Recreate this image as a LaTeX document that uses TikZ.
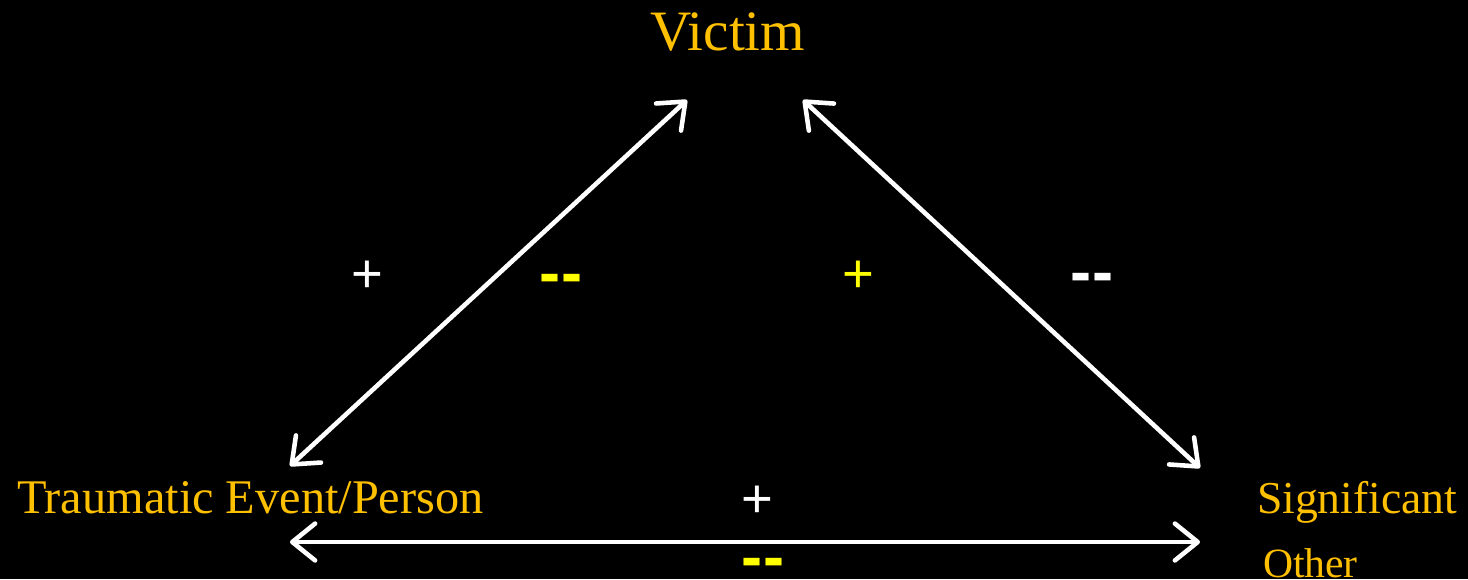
\documentclass[tikz,border=0pt]{standalone}
\usepackage{fontspec}
\setmainfont{Liberation Serif}
\setsansfont{Liberation Sans}
\usetikzlibrary{arrows.meta}
\definecolor{RoleGold}{RGB}{255, 192, 0}
\definecolor{SignYellow}{RGB}{255, 255, 0}
\definecolor{SignWhite}{RGB}{255, 255, 255}

\begin{document}
\begin{tikzpicture}[x=0.02cm, y=-0.02cm,
    every node/.style={inner sep=0pt, outer sep=0pt},
    roletext/.style={text=RoleGold, anchor=base west},
    tiearrow/.style={line width=2.6pt, color=white, line cap=round,
        {Straight Barb[length=13pt, width=21pt, line join=round, line cap=round]}-{Straight Barb[length=13pt, width=21pt, line join=round, line cap=round]}},
    plussign/.style={font=\sffamily\fontsize{31}{31}\selectfont},
    dashsign/.style={font=\sffamily\bfseries\fontsize{36}{36}\selectfont, anchor=base}]

    % --- Background ---
    \fill[black] (0,0) rectangle (1468,579);
    \useasboundingbox (0,0) rectangle (1468,579);

    % --- Roles ---
    \node[roletext, font=\fontsize{32.5}{33}\selectfont] (victim) at (650,50) {Victim};
    \node[roletext, font=\fontsize{27.5}{28}\selectfont] (trauma) at (17,513) {Traumatic Event/Person};
    \node[roletext, font=\fontsize{26}{27}\selectfont] (signif) at (1257,513) {Significant};
    \node[roletext, font=\fontsize{23.7}{24}\selectfont] (other) at (1263,577) {Other};

    % --- Arrow ends ---
    \coordinate (victimL) at (687,100);
    \coordinate (victimR) at (803,100);
    \coordinate (traumaUp) at (290,466);
    \coordinate (traumaLow) at (290,542);
    \coordinate (signifUp) at (1200,468);
    \coordinate (signifLow) at (1200,542);

    % --- Relations ---
    \draw[tiearrow] (traumaUp) -- (victimL);
    \draw[tiearrow] (victimR) -- (signifUp);
    \draw[tiearrow] (traumaLow) -- (signifLow);

    % --- Signs ---
    \node[plussign, text=SignWhite] (plusTV) at (367,277) {+};
    \node[dashsign, text=SignYellow] (minusTV) at (561,294) {-{}-};
    \node[plussign, text=SignYellow] (plusVS) at (858,277) {+};
    \node[dashsign, text=SignWhite] (minusVS) at (1092,293) {-{}-};
    \node[plussign, text=SignWhite] (plusTS) at (757,502) {+};
    \node[dashsign, text=SignYellow] (minusTS) at (763,578) {-{}-};

\end{tikzpicture}
\end{document}
